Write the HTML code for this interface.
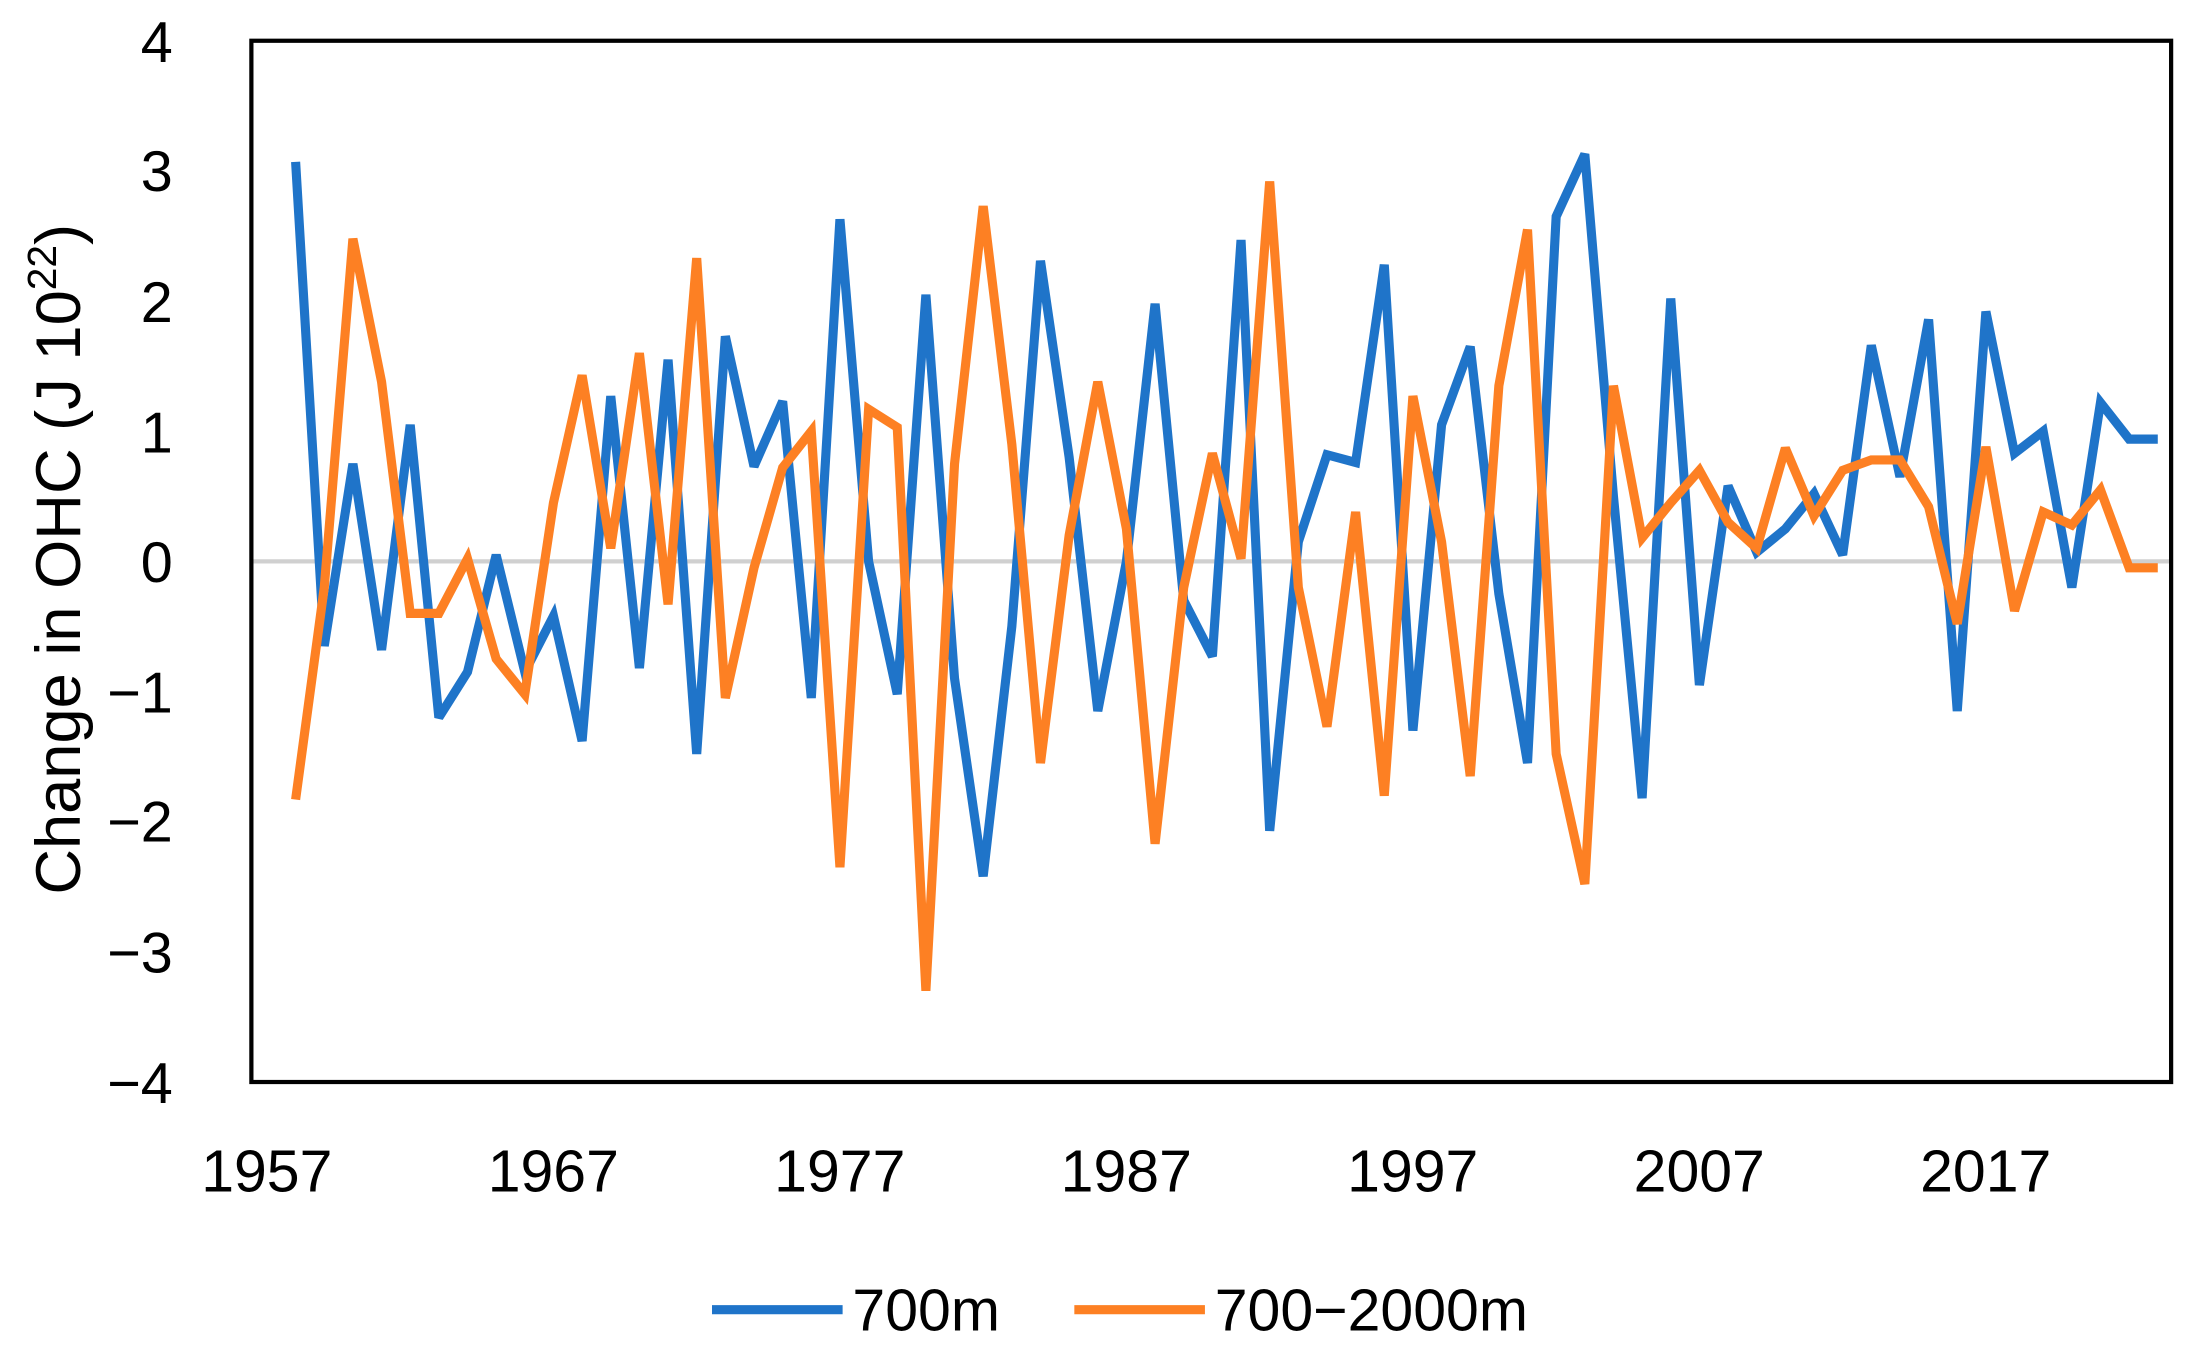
<!DOCTYPE html>
<html><head><meta charset="utf-8"><style>
html,body{margin:0;padding:0;background:#fff;}
svg{display:block;}
text{font-family:"Liberation Sans",sans-serif;fill:#000;}
</style></head><body>
<svg id="s" width="2195" height="1349" viewBox="0 0 1563 960" preserveAspectRatio="none" xmlns="http://www.w3.org/2000/svg">
<rect width="1563" height="960" fill="#fff"/>
<line x1="179" y1="399.5" x2="1546" y2="399.5" stroke="#d0d0d0" stroke-width="3"/>
<g font-size="41" text-anchor="end">
<text x="123" y="44">4</text><text x="123" y="136">3</text><text x="123" y="229">2</text><text x="123" y="322">1</text><text x="123" y="414">0</text><text x="123" y="507">−1</text><text x="123" y="599">−2</text><text x="123" y="692">−3</text><text x="123" y="785">−4</text>
</g>
<g font-size="42" text-anchor="middle">
<text x="190" y="848">1957</text><text x="394" y="848">1967</text><text x="598" y="848">1977</text><text x="802" y="848">1987</text><text x="1006" y="848">1997</text><text x="1210" y="848">2007</text><text x="1414" y="848">2017</text>
</g>
<text transform="translate(57,398) rotate(-90)" font-size="45" text-anchor="middle">Change in OHC (J 10<tspan font-size="29" dy="-17">22</tspan><tspan dy="17">)</tspan></text>
<polyline id="b" fill="none" stroke="#1f74c9" stroke-width="6.5" stroke-linejoin="miter" stroke-miterlimit="3"/>
<polyline id="o" fill="none" stroke="#fd8023" stroke-width="6.5" stroke-linejoin="miter" stroke-miterlimit="3"/>
<rect x="179" y="29" width="1367" height="741" fill="none" stroke="#000" stroke-width="3"/>
<line x1="507" y1="932" x2="600" y2="932" stroke="#1f74c9" stroke-width="6.5"/>
<text x="607" y="947" font-size="42">700m</text>
<line x1="765" y1="932" x2="858" y2="932" stroke="#fd8023" stroke-width="6.5"/>
<text x="865" y="947" font-size="42">700−2000m</text>
</svg>
<script>
var B=[3.07,-0.65,0.75,-0.68,1.05,-1.2,-0.85,0.05,-0.85,-0.42,-1.38,1.27,-0.82,1.55,-1.48,1.73,0.73,1.23,-1.05,2.63,0.0,-1.02,2.05,-0.9,-2.42,-0.5,2.31,0.8,-1.15,0.0,1.98,-0.3,-0.73,2.47,-2.07,0.15,0.82,0.76,2.28,-1.3,1.05,1.65,-0.25,-1.55,2.65,3.13,0.5,-1.82,2.02,-0.95,0.58,0.07,0.25,0.52,0.05,1.66,0.65,1.86,-1.15,1.92,0.83,1.0,-0.2,1.22,0.94,0.94];
var O=[-1.83,-0.2,2.48,1.38,-0.4,-0.4,0.02,-0.75,-1.02,0.45,1.43,0.1,1.6,-0.33,2.33,-1.05,-0.05,0.72,1.0,-2.35,1.17,1.03,-3.3,0.75,2.73,0.9,-1.55,0.2,1.38,0.25,-2.17,-0.2,0.83,0.02,2.92,-0.2,-1.27,0.38,-1.8,1.27,0.15,-1.65,1.35,2.55,-1.48,-2.48,1.35,0.18,0.45,0.7,0.3,0.1,0.87,0.35,0.7,0.78,0.78,0.42,-0.48,0.88,-0.38,0.38,0.28,0.55,-0.05,-0.05];
function pts(a){return a.map(function(v,i){return (210.5+20.4*i).toFixed(1)+","+(399.5-92.6*v).toFixed(1)}).join(" ");}
document.getElementById("b").setAttribute("points",pts(B));
document.getElementById("o").setAttribute("points",pts(O));
</script>
</body></html>
